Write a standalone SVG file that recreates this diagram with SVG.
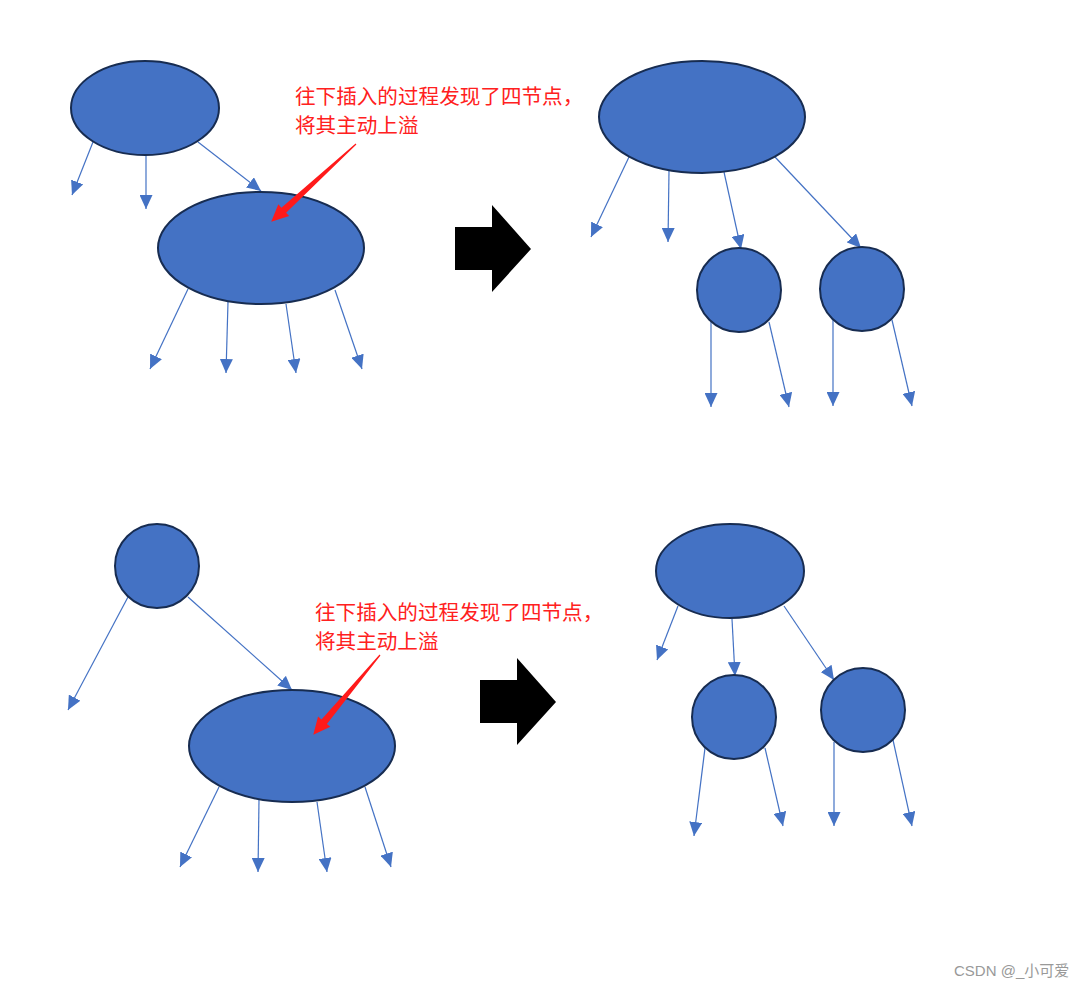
<svg xmlns="http://www.w3.org/2000/svg" width="1085" height="988" viewBox="0 0 1085 988">
<style>
.n{fill:#4472C4;stroke:#172C51;stroke-width:2}
.e{stroke:#4472C4;stroke-width:1.2;fill:none;marker-end:url(#ah)}
.t{font-family:"Noto Sans CJK SC","Liberation Sans",sans-serif;font-size:20.6px;fill:#FF2020}
.big{fill:#000}
.red{fill:#FF1A1A}
</style>
<defs>
<marker id="ah" markerUnits="userSpaceOnUse" markerWidth="15" markerHeight="13" viewBox="0 0 15 13" refX="14" refY="6.5" orient="auto">
<path d="M0,0 L14,6.5 L0,13 Z" fill="#4472C4"/>
</marker>
</defs>
<rect width="1085" height="988" fill="#fff"/>
<g id="connectors">
<line class="e" x1="93" y1="142" x2="72" y2="195"/>
<line class="e" x1="146" y1="155" x2="146" y2="209"/>
<line class="e" x1="198" y1="142" x2="261" y2="191"/>
<line class="e" x1="188" y1="289" x2="150" y2="369"/>
<line class="e" x1="228" y1="302" x2="226" y2="373"/>
<line class="e" x1="286" y1="304" x2="296" y2="373"/>
<line class="e" x1="335" y1="290" x2="362" y2="369"/>
<line class="e" x1="629" y1="157" x2="591" y2="237"/>
<line class="e" x1="669" y1="171" x2="668" y2="242"/>
<line class="e" x1="724" y1="172" x2="741" y2="249"/>
<line class="e" x1="775" y1="157" x2="861" y2="248"/>
<line class="e" x1="711" y1="322" x2="711" y2="407"/>
<line class="e" x1="769" y1="322" x2="789" y2="407"/>
<line class="e" x1="833" y1="320" x2="833" y2="406"/>
<line class="e" x1="892" y1="320" x2="912" y2="406"/>
<line class="e" x1="128" y1="597" x2="68" y2="710"/>
<line class="e" x1="188" y1="597" x2="292" y2="690"/>
<line class="e" x1="219" y1="787" x2="180" y2="867"/>
<line class="e" x1="259" y1="800" x2="258" y2="872"/>
<line class="e" x1="317" y1="802" x2="327" y2="872"/>
<line class="e" x1="365" y1="787" x2="391" y2="867"/>
<line class="e" x1="678" y1="606" x2="657" y2="660"/>
<line class="e" x1="732" y1="619" x2="735" y2="676"/>
<line class="e" x1="784" y1="606" x2="834" y2="680"/>
<line class="e" x1="705" y1="748" x2="694" y2="836"/>
<line class="e" x1="765" y1="748" x2="783" y2="826"/>
<line class="e" x1="834" y1="742" x2="834" y2="826"/>
<line class="e" x1="893" y1="740" x2="912" y2="826"/>
</g>
<g id="tl-root"><ellipse class="n" cx="145" cy="108" rx="74" ry="47"/></g>
<g id="tl-four"><ellipse class="n" cx="261" cy="248" rx="103" ry="56"/></g>
<g id="tr-root"><ellipse class="n" cx="702" cy="117" rx="103" ry="56"/></g>
<g id="tr-left"><circle class="n" cx="739" cy="290" r="42"/></g>
<g id="tr-right"><circle class="n" cx="862" cy="289" r="42"/></g>
<g id="bl-root"><circle class="n" cx="157" cy="566" r="42"/></g>
<g id="bl-four"><ellipse class="n" cx="292" cy="746" rx="103" ry="56"/></g>
<g id="br-root"><ellipse class="n" cx="730" cy="571" rx="74" ry="47"/></g>
<g id="br-left"><circle class="n" cx="734" cy="717" r="42"/></g>
<g id="br-right"><circle class="n" cx="863" cy="710" r="42"/></g>
<g id="note-top">
<text class="t" x="295" y="104">往下插入的过程发现了四节点，</text>
<text class="t" x="295" y="133">将其主动上溢</text>
<polygon class="red" transform="translate(356,144) rotate(137.5)" points="0,-0.6 98,-3.5 98,-8 115,0 98,8 98,3.5 0,0.6"/>
</g>
<g id="note-bottom">
<text class="t" x="315" y="620">往下插入的过程发现了四节点，</text>
<text class="t" x="315" y="649">将其主动上溢</text>
<polygon class="red" transform="translate(380,655) rotate(129.9)" points="0,-0.6 87,-3.5 87,-8 104,0 87,8 87,3.5 0,0.6"/>
</g>
<g id="arrow-top"><polygon class="big" points="455,227 492,227 492,205 531,249 492,292 492,270 455,270"/></g>
<g id="arrow-bottom"><polygon class="big" points="480,680 517,680 517,658 556,702 517,745 517,723 480,723"/></g>
<text x="954" y="976" font-family="Liberation Sans,'Noto Sans CJK SC',sans-serif" font-size="15" fill="#999">CSDN @_小可爱</text>
</svg>
